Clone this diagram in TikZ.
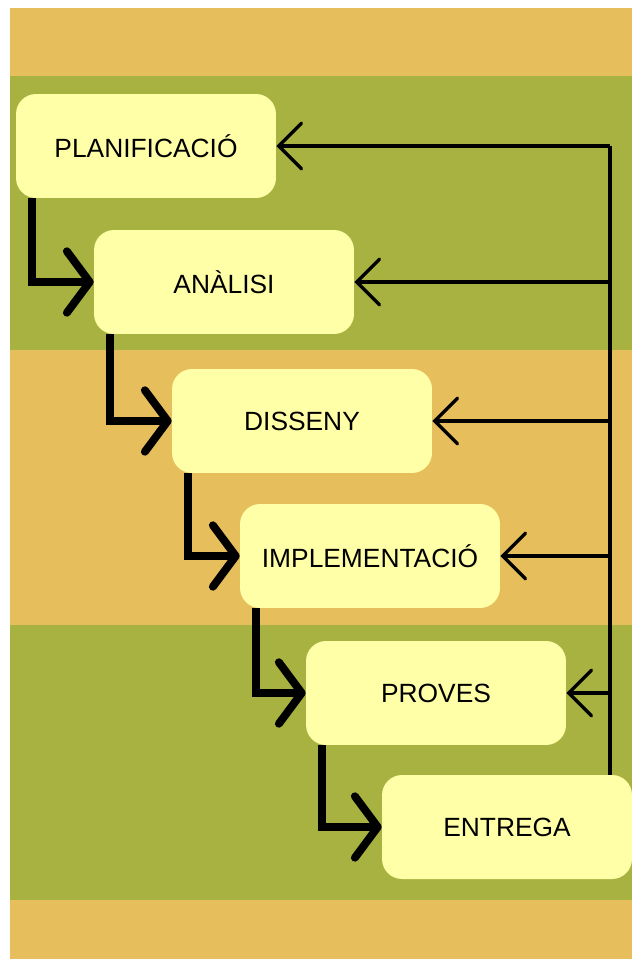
\documentclass[tikz,border=0pt]{standalone}
\usepackage{fontspec}
\setmainfont{Liberation Sans}
\usetikzlibrary{arrows.meta}
\definecolor{sand}{HTML}{E6BE5C}
\definecolor{grass}{HTML}{A8B240}
\definecolor{pale}{HTML}{FFFFA8}
\tikzset{
  phase/.style={fill=pale, rounded corners=0.4cm, minimum width=5.2cm,
    minimum height=2.08cm, font=\fontsize{15}{18}\selectfont},
  flow/.style={line width=4.5pt,
    -{Straight Barb[length=13pt,width=35pt,line cap=round,line join=round]}},
  back/.style={line width=1.9pt,
    -{Straight Barb[length=13pt,width=26pt,line cap=round]}}
}
\begin{document}
\begin{tikzpicture}[x=0.02cm, y=-0.02cm]
  \useasboundingbox (0,0) rectangle (632,959);
  % Bands
  \fill[sand] (10,8) rectangle (632,959);
  \fill[grass] (10,76) rectangle (632,350);
  \fill[grass] (10,625) rectangle (632,900);
  % Phases
  \node[phase] (plan) at (146,146) {PLANIFICACIÓ};
  \node[phase] (anal) at (224,282) {ANÀLISI};
  \node[phase] (diss) at (302,421) {DISSENY};
  \node[phase] (impl) at (370,556) {IMPLEMENTACIÓ};
  \node[phase] (prov) at (436,693) {PROVES};
  \node[phase, minimum width=5cm] (entr) at (507,827) {ENTREGA};
  % Forward steps
  \foreach \a/\b in {plan/anal,anal/diss,diss/impl,impl/prov,prov/entr}
    \draw[flow] ([xshift=0.32cm]\a.south west) |- (\b.west);
  % Feedback
  \coordinate (rail) at (610,0);
  \draw[line width=1.9pt] (rail |- plan.east) -- (rail |- entr.north);
  \foreach \n in {plan,anal,diss,impl,prov}
    \draw[back] (rail |- \n.east) -- (\n.east);
\end{tikzpicture}
\end{document}
